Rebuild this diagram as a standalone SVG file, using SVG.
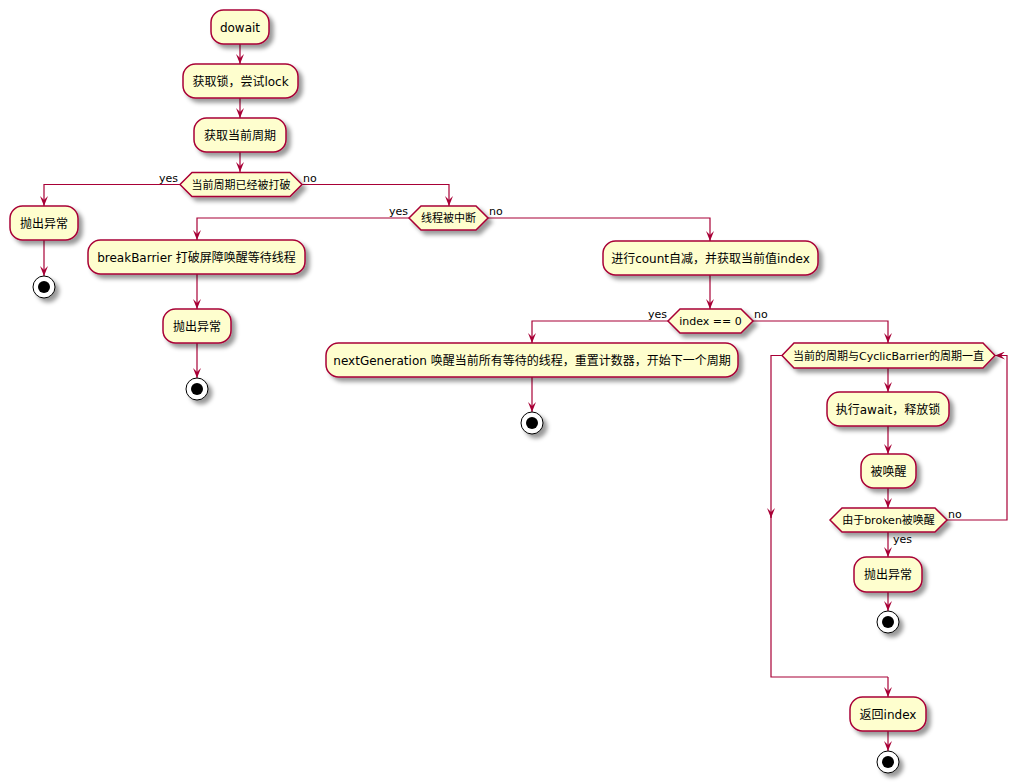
<svg xmlns="http://www.w3.org/2000/svg" width="1026" height="783" viewBox="0 0 1026 783">
<defs>
<filter id="sh" x="-1" y="-1" width="300%" height="300%">
<feGaussianBlur result="b1" stdDeviation="2"/>
<feColorMatrix in="b1" result="b2" type="matrix" values="0 0 0 0 0 0 0 0 0 0 0 0 0 0 0 0 0 0 .4 0"/>
<feOffset dx="4" dy="4" in="b2" result="b3"/>
<feBlend in="SourceGraphic" in2="b3" mode="normal"/>
</filter>
<marker id="ah" viewBox="0 0 10 8" refX="10" refY="4" markerWidth="10" markerHeight="8" markerUnits="userSpaceOnUse" orient="auto">
<path d="M0,0 L10,4 L0,8 L4,4 Z" fill="#A80036"/>
</marker>
</defs>
<style>
.act{fill:#FEFECE;stroke:#A80036;stroke-width:1.5;filter:url(#sh)}
.t{font-family:"DejaVu Sans","Noto Sans CJK SC",sans-serif;font-size:12px;fill:#000;text-anchor:middle}
.d{font-family:"DejaVu Sans","Noto Sans CJK SC",sans-serif;font-size:11px;fill:#000;text-anchor:middle}
.l{font-family:"DejaVu Sans","Noto Sans CJK SC",sans-serif;font-size:11px;fill:#000}
.c{fill:none;stroke:#A80036;stroke-width:1.2}
.ca{fill:none;stroke:#A80036;stroke-width:1.2;marker-end:url(#ah)}
.so{fill:#FFFFFF;stroke:#000;stroke-width:1;filter:url(#sh)}
.si{fill:#000;stroke:none}
</style>
<rect width="1026" height="783" fill="#FFFFFF"/>

<g id="connectors">
<path class="ca" d="M240,44 V64"/>
<path class="ca" d="M240,98 V118"/>
<path class="ca" d="M240,152 V172"/>
<path class="ca" d="M180,184.5 H44 V206"/>
<path class="ca" d="M44,240 V276"/>
<path class="ca" d="M302,184.5 H449 V206"/>
<path class="ca" d="M409,218 H197 V240"/>
<path class="ca" d="M197,274 V309"/>
<path class="ca" d="M197,343 V378"/>
<path class="ca" d="M488,218 H710 V241"/>
<path class="ca" d="M710,274 V309"/>
<path class="ca" d="M668,321 H532 V343"/>
<path class="ca" d="M532,377 V412"/>
<path class="ca" d="M753,321 H888 V343"/>
<path class="ca" d="M888,368 V392"/>
<path class="ca" d="M888,426 V454"/>
<path class="ca" d="M888,488 V508"/>
<path class="ca" d="M947,520 H1007 V355.5 H995"/>
<path class="ca" d="M888,532 V557"/>
<path class="ca" d="M888,592 V611"/>
<path class="ca" d="M782,355.5 H771 V518"/>
<path class="c" d="M771,516 V677 H888"/>
<path class="ca" d="M888,677 V697"/>
<path class="ca" d="M888,731 V751"/>
<text class="l" x="178" y="182" text-anchor="end">yes</text>
<text class="l" x="303" y="182">no</text>
<text class="l" x="408" y="215" text-anchor="end">yes</text>
<text class="l" x="489" y="215">no</text>
<text class="l" x="667" y="318" text-anchor="end">yes</text>
<text class="l" x="754" y="318">no</text>
<text class="l" x="948" y="518">no</text>
<text class="l" x="893" y="543">yes</text>
</g>

<g id="n_dowait"><rect class="act" x="211" y="10" width="58" height="34" rx="12.5"/><text class="t" x="240" y="31.5">dowait</text></g>
<g id="n_lock"><rect class="act" x="183" y="64" width="115" height="34" rx="12.5"/><text class="t" x="240.5" y="85.5">获取锁，尝试lock</text></g>
<g id="n_period"><rect class="act" x="194" y="118" width="92" height="34" rx="12.5"/><text class="t" x="240" y="139.5">获取当前周期</text></g>
<g id="d_broken"><polygon class="act" points="180,184.5 192,172.5 290,172.5 302,184.5 290,196.5 192,196.5"/><text class="d" x="241" y="188.5">当前周期已经被打破</text></g>
<g id="n_throw1"><rect class="act" x="10" y="206" width="68" height="34" rx="12.5"/><text class="t" x="44" y="227.5">抛出异常</text></g>
<g id="s_stop1"><circle class="so" cx="44" cy="287" r="11"/><circle class="si" cx="44" cy="287" r="6"/></g>
<g id="d_interrupt"><polygon class="act" points="409,218 421,206 476,206 488,218 476,230 421,230"/><text class="d" x="448.5" y="222">线程被中断</text></g>
<g id="n_breakBarrier"><rect class="act" x="88" y="240" width="217" height="34" rx="12.5"/><text class="t" x="196.5" y="261.5">breakBarrier 打破屏障唤醒等待线程</text></g>
<g id="n_throw2"><rect class="act" x="163" y="309" width="68" height="34" rx="12.5"/><text class="t" x="197" y="330.5">抛出异常</text></g>
<g id="s_stop2"><circle class="so" cx="197" cy="389" r="11"/><circle class="si" cx="197" cy="389" r="6"/></g>
<g id="n_count"><rect class="act" x="603" y="241" width="215" height="34" rx="12.5"/><text class="t" x="710.5" y="262.5">进行count自减，并获取当前值index</text></g>
<g id="d_index"><polygon class="act" points="668,321 680,309 741,309 753,321 741,333 680,333"/><text class="d" x="710.5" y="325">index == 0</text></g>
<g id="n_nextGen"><rect class="act" x="326" y="343" width="412" height="34" rx="12.5"/><text class="t" x="532" y="364.5">nextGeneration 唤醒当前所有等待的线程，重置计数器，开始下一个周期</text></g>
<g id="s_stop3"><circle class="so" cx="532" cy="423" r="11"/><circle class="si" cx="532" cy="423" r="6"/></g>
<g id="d_loop"><polygon class="act" points="782,355.5 794,343 983,343 995,355.5 983,368 794,368"/><text class="d" x="888.5" y="359.5">当前的周期与CyclicBarrier的周期一直</text></g>
<g id="n_await"><rect class="act" x="827" y="392" width="122" height="34" rx="12.5"/><text class="t" x="888" y="413.5">执行await，释放锁</text></g>
<g id="n_woken"><rect class="act" x="861" y="454" width="55" height="34" rx="12.5"/><text class="t" x="888.5" y="475.5">被唤醒</text></g>
<g id="d_brokenWake"><polygon class="act" points="830,520 842,508 935,508 947,520 935,532 842,532"/><text class="d" x="888.5" y="524">由于broken被唤醒</text></g>
<g id="n_throw3"><rect class="act" x="854" y="557" width="68" height="35" rx="12.5"/><text class="t" x="888" y="579">抛出异常</text></g>
<g id="s_stop4"><circle class="so" cx="888" cy="622" r="11"/><circle class="si" cx="888" cy="622" r="6"/></g>
<g id="n_return"><rect class="act" x="850" y="697" width="76" height="34" rx="12.5"/><text class="t" x="888" y="718.5">返回index</text></g>
<g id="s_stop5"><circle class="so" cx="888" cy="762" r="11"/><circle class="si" cx="888" cy="762" r="6"/></g>
</svg>
